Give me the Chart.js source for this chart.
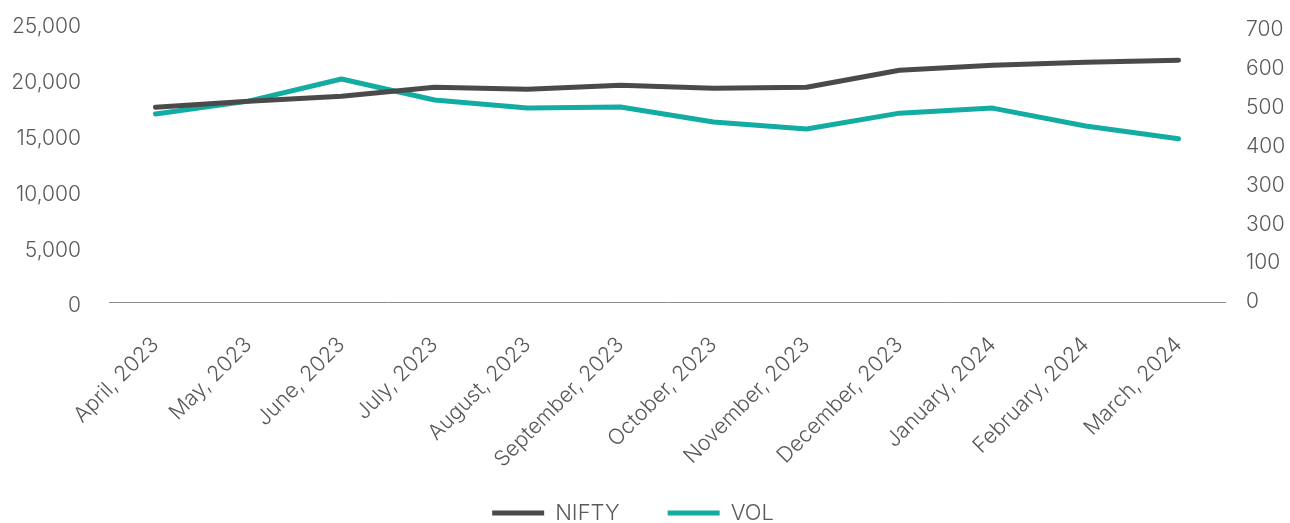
<!DOCTYPE html>
<html>
<head>
<meta charset="utf-8">
<script src="https://cdn.jsdelivr.net/npm/chart.js@4"></script>
<style>
html,body{margin:0;padding:0;background:#fff;}
#wrap{width:1290px;height:523px;position:relative;}
</style>
</head>
<body>
<div id="wrap"><canvas id="c" width="1290" height="523"></canvas></div>
<script>
const categories = ["April, 2023","May, 2023","June, 2023","July, 2023","August, 2023","September, 2023","October, 2023","November, 2023","December, 2023","January, 2024","February, 2024","March, 2024"];
const nifty = [17450, 17990, 18430, 19250, 19070, 19420, 19160, 19250, 20770, 21220, 21490, 21670];
const vol = [484, 517, 574, 520, 499, 502, 463, 445, 486, 499, 453, 420];
const leftTicks = [0, 5000, 10000, 15000, 20000, 25000];
const rightTickValues = [0, 100, 200, 300, 400, 500, 600, 700];
const rightTickLabels = ["0", "100", "300", "300", "400", "500", "600", "700"];

const FONT = "Inter, Roboto, 'Liberation Sans', sans-serif";
const TXT = "#595959";
const LEGEND_H = 53;

const legendFix = {
  id: 'legendFix',
  beforeLayout(chart) {
    const lg = chart.legend;
    if (lg && !lg._fixed) {
      const f = lg.fit.bind(lg);
      lg.fit = function() { f(); this.height = LEGEND_H; };
      lg._fixed = true;
    }
  },
  afterLayout(chart) {
    const lg = chart.legend;
    if (!lg) return;
    lg.top = chart.height - 69;
    lg.bottom = chart.height;
    lg.height = lg.bottom - lg.top;
    lg.left -= 12;
    lg.right -= 12;
  }
};

new Chart(document.getElementById('c'), {
  type: 'line',
  data: {
    labels: categories,
    datasets: [
      {label: 'NIFTY', data: nifty, yAxisID: 'y', borderColor: '#4a4a4a', backgroundColor: '#4a4a4a', borderWidth: 5, pointRadius: 0, tension: 0, borderCapStyle: 'round', borderJoinStyle: 'round'},
      {label: 'VOL', data: vol, yAxisID: 'y1', borderColor: '#13aca2', backgroundColor: '#13aca2', borderWidth: 5, pointRadius: 0, tension: 0, borderCapStyle: 'round', borderJoinStyle: 'round'}
    ]
  },
  plugins: [legendFix],
  options: {
    responsive: false,
    animation: false,
    layout: {padding: {top: 23, bottom: 0, left: 0, right: 0}},
    plugins: {
      tooltip: {enabled: false},
      legend: {
        position: 'bottom',
        labels: {
          boxWidth: 52, boxHeight: 5, useBorderRadius: true, borderRadius: 2.5,
          color: TXT, font: {family: FONT, size: 22, weight: 300}, padding: 48,
          generateLabels(chart) {
            return chart.data.datasets.map((d, i) => ({text: d.label, fillStyle: d.borderColor, strokeStyle: d.borderColor, lineWidth: 0, datasetIndex: i, fontColor: TXT}));
          }
        }
      }
    },
    scales: {
      x: {
        offset: true,
        grid: {display: false, drawTicks: false},
        border: {display: true, color: '#8c8c8c', width: 1},
        afterFit(s) { s.height = 523 - LEGEND_H - 302; s.paddingLeft = 0; s.paddingRight = 0; },
        ticks: {color: TXT, font: {family: FONT, size: 21.5, weight: 300}, maxRotation: 45, minRotation: 45, padding: 30, autoSkip: false}
      },
      y: {
        position: 'left', min: 0, max: 25000,
        grid: {display: false, drawTicks: false},
        border: {display: false},
        afterBuildTicks(s) { s.ticks = leftTicks.map(v => ({value: v})); },
        afterFit(s) { s.width = 109; s.paddingTop = 0; s.paddingBottom = 0; },
        ticks: {color: TXT, font: {family: FONT, size: 21, weight: 300}, padding: 28, labelOffset: 4,
          callback: v => v.toLocaleString('en-US')}
      },
      y1: {
        position: 'right', min: 0, max: 718,
        grid: {display: false, drawTicks: false},
        border: {display: false},
        afterBuildTicks(s) { s.ticks = rightTickValues.map(v => ({value: v})); },
        afterFit(s) { s.width = 65; s.paddingTop = 0; s.paddingBottom = 0; },
        ticks: {color: TXT, font: {family: FONT, size: 21, weight: 300}, padding: 21,
          callback: (v) => { const i = rightTickValues.indexOf(v); return i >= 0 ? rightTickLabels[i] : ''; }}
      }
    }
  }
});
</script>
</body>
</html>
